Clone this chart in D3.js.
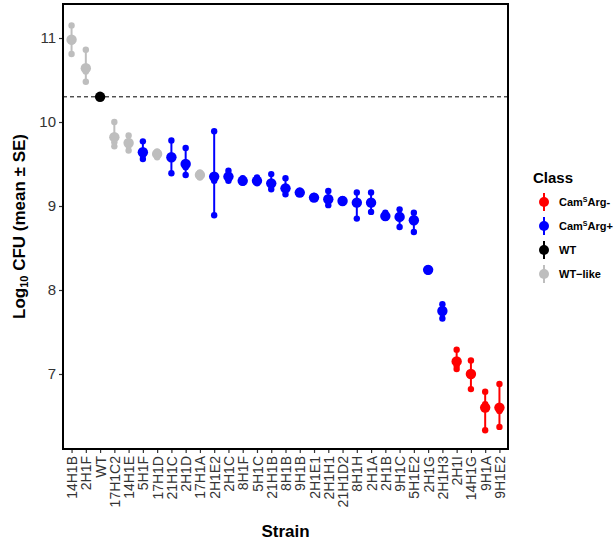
<!DOCTYPE html>
<html>
<head>
<meta charset="utf-8">
<script src="https://cdn.jsdelivr.net/npm/d3@7"></script>
<style>
  body { margin: 0; background: #fff; }
  svg { font-family: "Liberation Sans", Arial, sans-serif; }
</style>
</head>
<body>
<svg id="chart" width="615" height="546"></svg>
<script>
// Strains in plotted order
const strains = ['14H1B', '2H1F', 'WT', '17H1C2', '14H1E', '5H1F', '17H1D', '21H1C', '2H1D', '17H1A',
  '2H1E2', '2H1C', '8H1F', '5H1C', '21H1B', '8H1B', '9H1B', '2H1E1', '2H1H1', '21H1D2',
  '8H1H', '2H1A', '2H1B', '9H1C', '5H1E2', '2H1G', '2H1H3', '2H1I', '14H1G', '9H1A', '9H1E2'];

const classes = ['WT-like', 'WT-like', 'WT', 'WT-like', 'WT-like', 'Arg+', 'WT-like', 'Arg+', 'Arg+', 'WT-like',
  'Arg+', 'Arg+', 'Arg+', 'Arg+', 'Arg+', 'Arg+', 'Arg+', 'Arg+', 'Arg+', 'Arg+',
  'Arg+', 'Arg+', 'Arg+', 'Arg+', 'Arg+', 'Arg+', 'Arg+', 'Arg-', 'Arg-', 'Arg-', 'Arg-'];

// log10 CFU: mean and the three replicates (low / middle / high)
const means = [10.98, 10.64, 10.30, 9.82, 9.75, 9.64, 9.62, 9.58, 9.50, 9.37,
  9.35, 9.35, 9.30, 9.30, 9.27, 9.21, 9.16, 9.10, 9.08, 9.06,
  9.04, 9.04, 8.88, 8.87, 8.83, 8.24, 7.75, 7.15, 7.00, 6.60, 6.60];
const repLow = [10.81, 10.48, 10.30, 9.71, 9.66, 9.56, 9.58, 9.39, 9.37, 9.34,
  8.89, 9.30, 9.28, 9.27, 9.20, 9.14, 9.15, 9.09, 9.01, 9.05,
  8.85, 8.93, 8.86, 8.75, 8.69, 8.22, 7.66, 7.06, 6.82, 6.33, 6.37];
const repMid = [10.96, 10.60, 10.30, 9.76, 9.72, 9.61, 9.60, 9.57, 9.46, 9.36,
  9.30, 9.37, 9.31, 9.31, 9.28, 9.23, 9.16, 9.11, 9.09, 9.07,
  9.05, 9.06, 8.89, 8.89, 8.85, 8.25, 7.73, 7.10, 7.01, 6.64, 6.56];
const repHigh = [11.15, 10.86, 10.30, 10.00, 9.84, 9.77, 9.65, 9.78, 9.69, 9.40,
  9.89, 9.42, 9.33, 9.34, 9.38, 9.33, 9.18, 9.12, 9.18, 9.08,
  9.16, 9.16, 8.92, 8.96, 8.92, 8.26, 7.83, 7.29, 7.16, 6.79, 6.88];

const wtLevel = 10.30;
const yTicks = [7, 8, 9, 10, 11];

const legendKeys = ['Arg-', 'Arg+', 'WT', 'WT-like'];
const legendColors = ['#ff0000', '#0000ff', '#000000', '#bebebe'];

const color = d3.scaleOrdinal().domain(legendKeys).range(legendColors);

const rows = strains.map((s, i) => ({
  strain: s, cls: classes[i], mean: means[i],
  reps: [repLow[i], repMid[i], repHigh[i]]
}));

const margin = { top: 4, left: 63 };
const width = 445;
const height = 445;

const svg = d3.select('#chart');
const g = svg.append('g').attr('transform', `translate(${margin.left},${margin.top})`);

const x = d3.scalePoint().domain(strains).range([0, width]).padding(0.6);
const y = d3.scaleLinear().domain([6.107, 11.405]).range([height, 0]);

// reference line at WT
g.append('line')
  .attr('x1', 0).attr('x2', width)
  .attr('y1', y(wtLevel)).attr('y2', y(wtLevel))
  .attr('stroke', '#000').attr('stroke-width', 1)
  .attr('stroke-dasharray', '4,3');

// error ranges
g.selectAll('.range')
  .data(rows)
  .enter()
  .append('line')
  .attr('x1', d => x(d.strain)).attr('x2', d => x(d.strain))
  .attr('y1', d => y(d3.min(d.reps))).attr('y2', d => y(d3.max(d.reps)))
  .attr('stroke', d => color(d.cls))
  .attr('stroke-width', 2);

// replicate dots
g.selectAll('.rep')
  .data(rows.flatMap(d => d.reps.map(v => ({ strain: d.strain, cls: d.cls, v }))))
  .enter()
  .append('circle')
  .attr('cx', d => x(d.strain))
  .attr('cy', d => y(d.v))
  .attr('r', 3.2)
  .attr('fill', d => color(d.cls));

// means
g.selectAll('.mean')
  .data(rows)
  .enter()
  .append('circle')
  .attr('cx', d => x(d.strain))
  .attr('cy', d => y(d.mean))
  .attr('r', 5.2)
  .attr('fill', d => color(d.cls));

// axes
const yAxis = g.append('g')
  .call(d3.axisLeft(y).tickValues(yTicks).tickSize(4).tickPadding(3).tickFormat(d3.format('d')));
yAxis.select('.domain').remove();
yAxis.selectAll('line').attr('stroke', '#333').attr('stroke-width', 1.2);
yAxis.selectAll('text').attr('fill', '#333').style('font-size', '15px');

const xAxis = g.append('g')
  .attr('transform', `translate(0,${height})`)
  .call(d3.axisBottom(x).tickSize(4).tickPadding(3));
xAxis.select('.domain').remove();
xAxis.selectAll('line').attr('stroke', '#333').attr('stroke-width', 1.2);
xAxis.selectAll('text')
  .attr('fill', '#333')
  .style('font-size', '14px')
  .attr('transform', 'rotate(-90)')
  .attr('x', -7).attr('y', 0).attr('dy', '0.36em')
  .style('text-anchor', 'end');

// panel border
g.append('rect')
  .attr('width', width).attr('height', height)
  .attr('fill', 'none').attr('stroke', '#000').attr('stroke-width', 2);

// axis titles
svg.append('text')
  .attr('x', margin.left + width / 2).attr('y', 537)
  .attr('text-anchor', 'middle')
  .style('font-size', '17px').style('font-weight', 'bold')
  .text('Strain');

const yt = svg.append('text')
  .attr('transform', `translate(25,${margin.top + height / 2}) rotate(-90)`)
  .attr('text-anchor', 'middle')
  .style('font-size', '17px').style('font-weight', 'bold');
yt.append('tspan').text('Log');
yt.append('tspan').attr('dy', 3).style('font-size', '11px').text('10');
yt.append('tspan').attr('dy', -3).text(' CFU (mean \u00b1 SE)');

// legend
const lg = svg.append('g').attr('transform', 'translate(533,0)');
lg.append('text').attr('x', 0).attr('y', 183)
  .style('font-size', '15px').style('font-weight', 'bold').text('Class');

const items = lg.selectAll('.item')
  .data(legendKeys)
  .enter()
  .append('g')
  .attr('transform', (d, i) => `translate(11,${202 + i * 24})`);
items.append('line').attr('y1', -9).attr('y2', 9)
  .attr('stroke', d => color(d)).attr('stroke-width', 2);
items.append('circle').attr('r', 5).attr('fill', d => color(d));

const labels = items.append('text')
  .attr('x', 15).attr('y', 4)
  .style('font-size', '11px').style('font-weight', 'bold');
labels.each(function (d) {
  const t = d3.select(this);
  if (d.startsWith('Arg')) {
    t.append('tspan').text('Cam');
    t.append('tspan').attr('dy', -4).style('font-size', '7px').text('S');
    t.append('tspan').attr('dy', 4).text(d);
  } else {
    t.text(d === 'WT-like' ? 'WT\u2212like' : d);
  }
});
</script>
</body>
</html>
